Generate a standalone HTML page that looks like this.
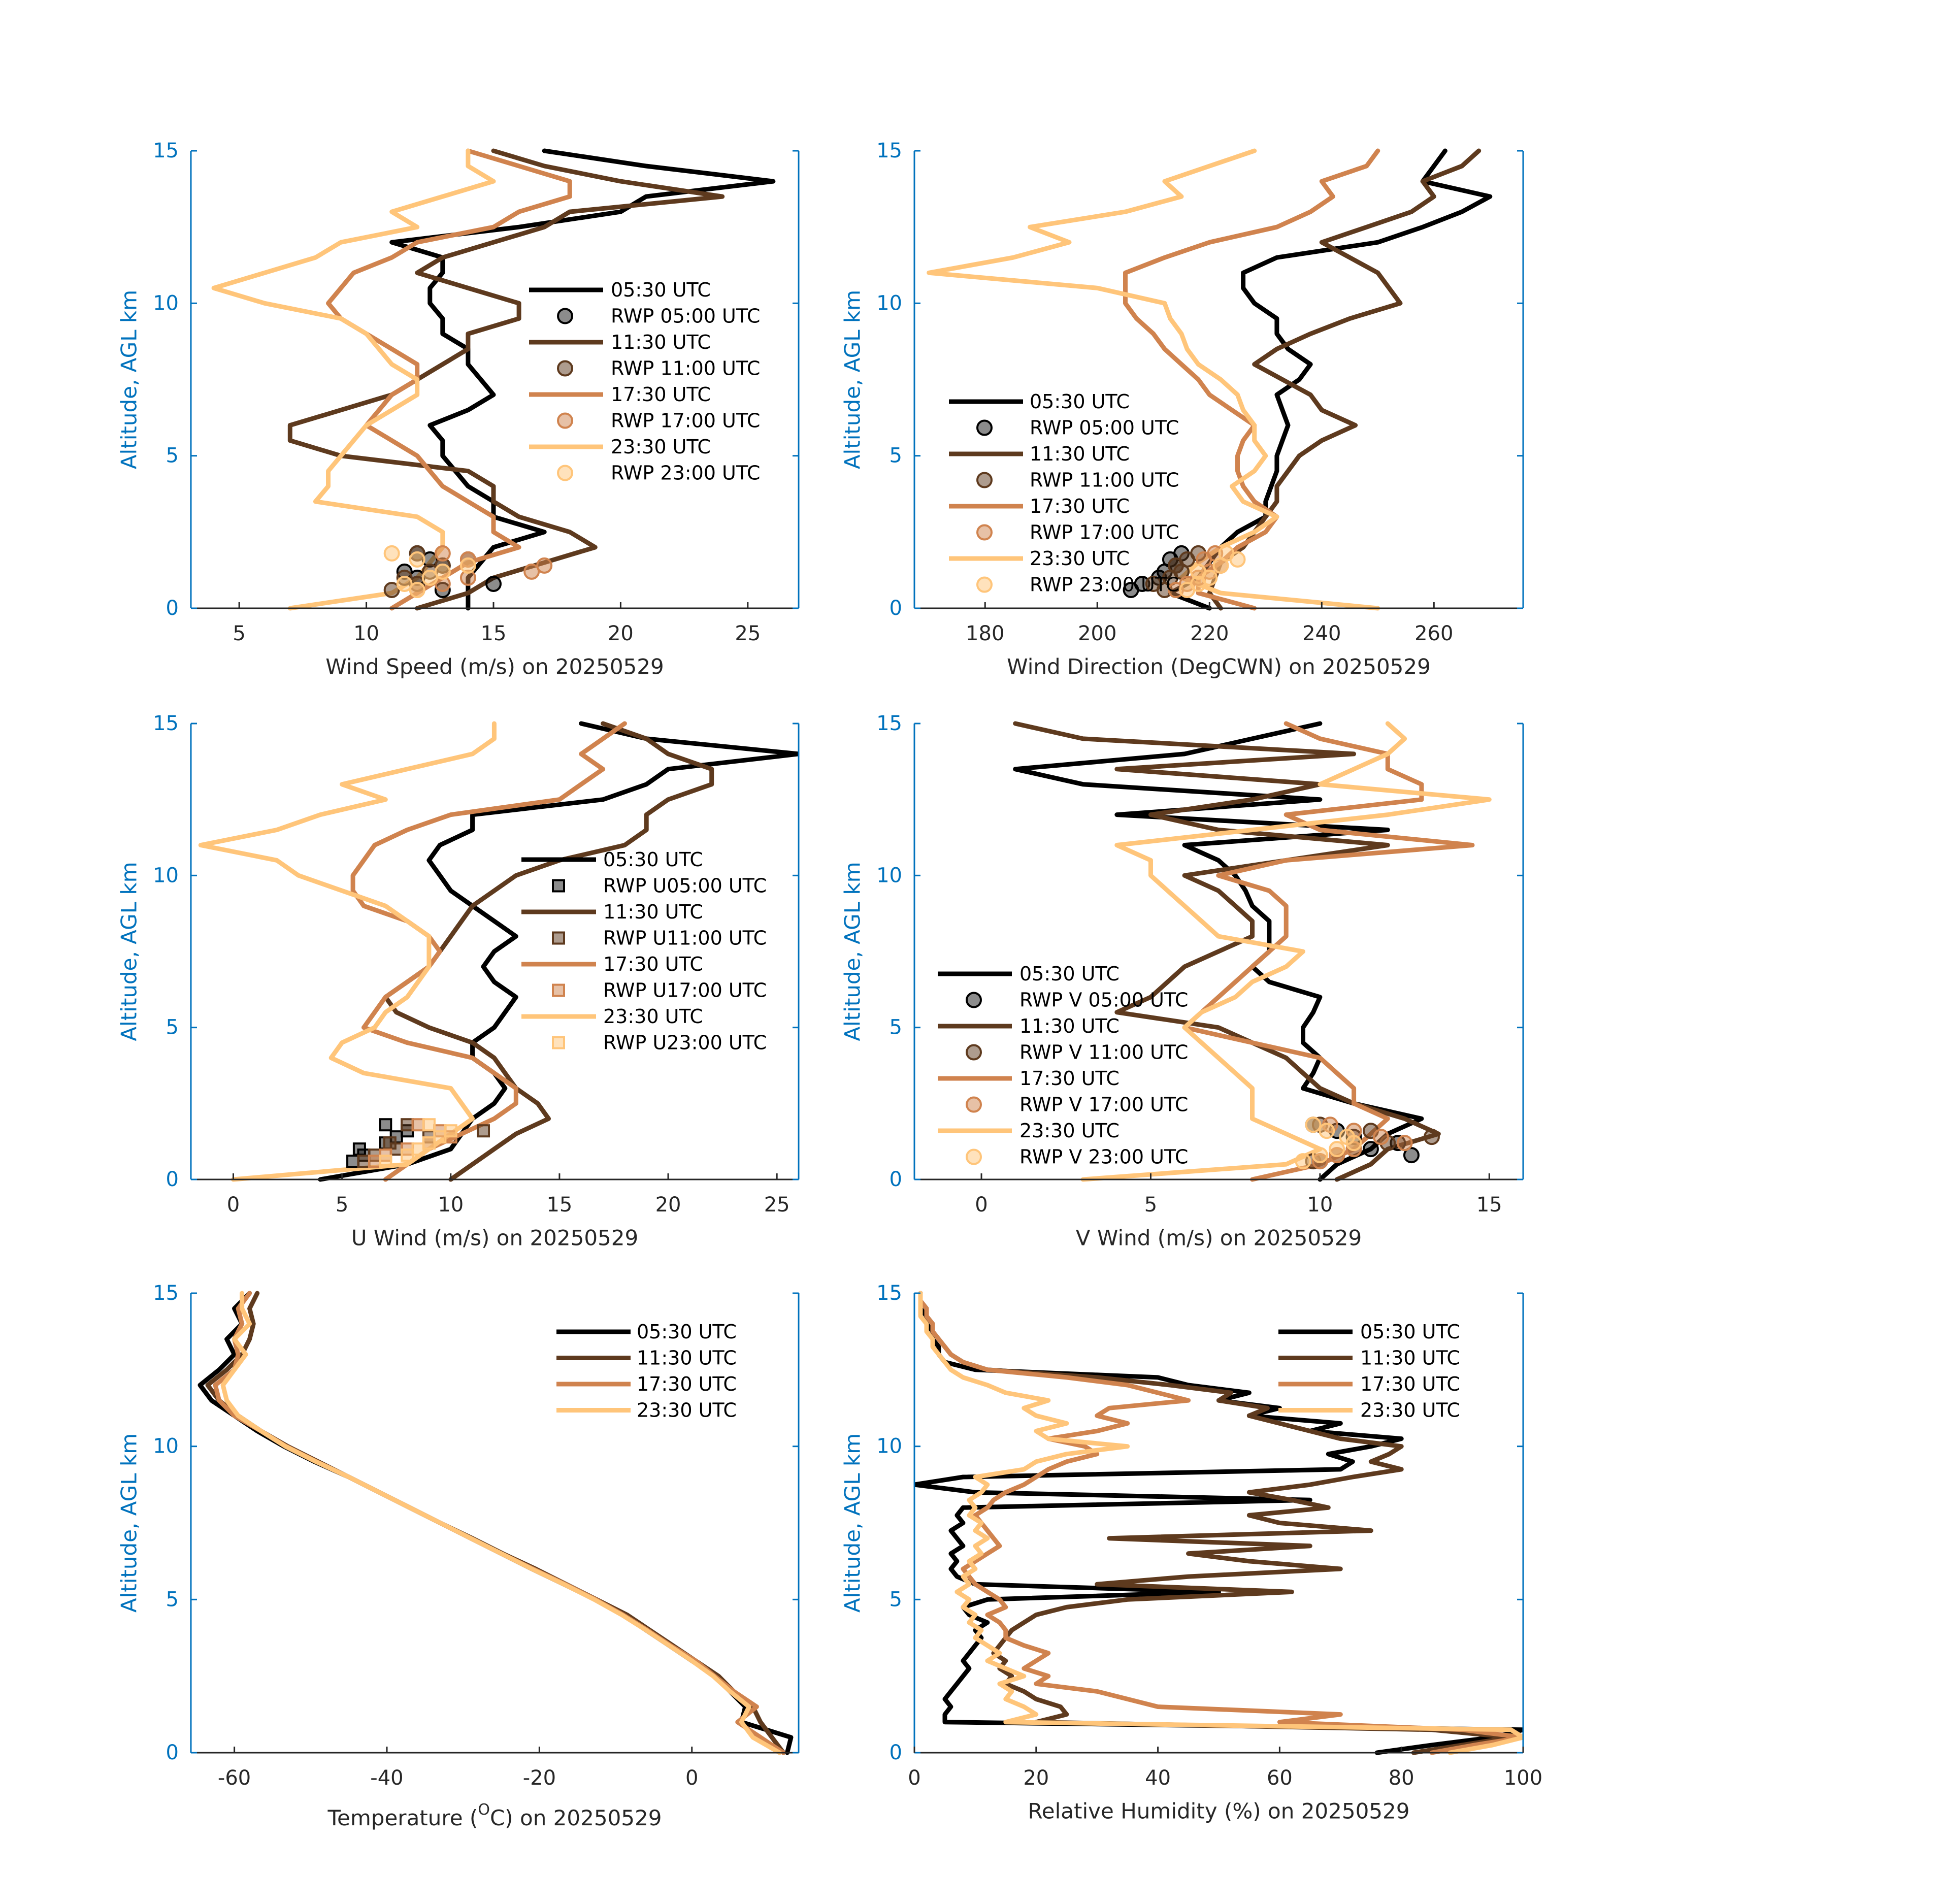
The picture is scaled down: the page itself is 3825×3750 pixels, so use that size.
<!DOCTYPE html>
<html><head><meta charset="utf-8"><title>Sounding profiles 20250529</title>
<style>html,body{margin:0;padding:0;background:#fff}svg{display:block}text{font-family:"DejaVu Sans","Liberation Sans",sans-serif}</style>
</head><body>
<svg id="fig" xmlns="http://www.w3.org/2000/svg" width="3825" height="3750" viewBox="0 0 3825 3750"></svg>
<script>
const ALT=[];for(let i=0;i<=30;i++)ALT.push(i*0.5);
const ALT_RH=[];for(let i=0;i<=60;i++)ALT_RH.push(i*0.25);
const TIMES=["05:30 UTC","11:30 UTC","17:30 UTC","23:30 UTC"];
const RWP_TIMES=["05:00 UTC","11:00 UTC","17:00 UTC","23:00 UTC"];
const RWP_ALT=[0.6,0.8,1.0,1.2,1.4,1.6,1.8];
// wind speed
const ws0=[14,14,14,14.5,15,17,15,15,14,13.5,13,13,12.5,14,15,14.5,14,14,13,13,12.5,12.5,13,13,11,16,20,21,26,21,17];
const ws1=[12,14,15,17,19,18,16,15,15,14,9,7,7,9,11,12,13,14,14,16,16,14,12,13,15,17,18,24,20,17,15];
const ws2=[11,12,13,14,16,15,15,14,13,12.5,12,11,10,10.5,11,12,12,11,10,9,8.5,9,9.5,11,12,15,16,18,18,16,14];
const ws3=[7,11,12,12.5,13,13,12,8,8.5,8.5,9,9.5,10,11,12,12,11,10.5,10,9,6,4,6,8,9,12,11,13,15,14,14];
const rws0=[13,15,12,11.5,13,12.5,12];const rws1=[11,12,11.5,12.5,13,14,12];const rws2=[12,13,14,16.5,17,14,13];const rws3=[12,11.5,12.5,13,14,12,11];
// wind direction
const wd0=[220,213,218,220,222,225,230,230,231,232,232,233,234,233,232,236,238,234,232,232,228,226,226,232,250,258,265,270,258,260,262];
const wd1=[222,220,221,222,226,228,230,232,232,234,236,240,246,240,238,233,228,232,238,245,254,252,250,245,240,248,256,260,258,265,268];
const wd2=[228,218,218,222,225,230,232,228,226,225,225,226,228,224,220,218,215,212,210,207,205,205,205,212,220,232,238,242,240,248,250];
const wd3=[250,222,215,218,222,228,232,226,224,228,230,228,228,226,225,222,218,216,215,213,212,200,170,185,195,188,205,215,212,220,228];
const rwd0=[206,208,211,212,214,213,215];const rwd1=[212,210,213,215,214,216,218];const rwd2=[214,216,218,220,222,219,221];const rwd3=[216,218,220,218,222,225,223];
// U wind
const u0=[4,8,10,10.5,11,12,12.5,12,11,11,12,12.5,13,12,11.5,12,13,12,11,10,9.5,9,9.5,11,11,17,19,20,26,19,16];
const u1=[10,11,12,13,14.5,14,13,12.5,12,11,9,7.5,7,8,9,9.5,10,10.5,11,12,13,15,18,19,19,20,22,22,20,19,17];
const u2=[7,8,9,10.5,12,13,13,12,11,8,6,6.5,7,8,9,9.5,9,8,6,5.5,5.5,6,6.5,8,10,15,16,17,16,17,18];
const u3=[0,8,9,10,11,10.5,10,6,4.5,5,6.5,7,8,8.5,9,9,9,8,7,5,3,2,-1.5,2,4,7,5,8,11,12,12];
const ru0=[5.5,6,5.8,7,7.5,8,7];const ru1=[6,6.5,7.5,7.2,9,11.5,8];const ru2=[6.5,7,8,9,10,9.5,8.5];const ru3=[7,8,8.5,9,9.5,10,9];
// V wind
const v0=[10,10.5,11.5,12,13,11,9.5,9.8,10,9.5,9.5,9.8,10,8.5,8,8.5,8.5,8.5,8,7.8,7.5,7,6,12,4,10,3,1,6,8,10];
const v1=[10.5,11.5,12,13.5,12.5,11,10,9.5,9,8,7,4,5,5.5,6,7,8,8,7.5,7,6,9,12,7,5,8,10,4,11,3,1];
const v2=[8,10,11,11.5,12,11,11,10.5,10,8,6,6.5,7,7.5,8,8.5,9,9,9,8.5,7,9,14.5,10,9,13,13,12,12,10,9];
const v3=[3,9,10,9,8,8,8,7.5,7,6.5,6,6.5,7.5,8,9,9.5,7,6.5,6,5.5,5,5,4,8,12,15,10,11,12,12.5,12];
const rv0=[10,12.7,11.5,12.3,11,10.5,9.8];const rv1=[9.8,10.5,11,12,13.3,11.5,10];const rv2=[10,10.5,11,12.5,11.8,11,10.3];const rv3=[9.5,10,10.5,11,10.8,10.2,9.8];
// temperature
const t0=[12.5,13,6.5,7,5,3,0,-3,-6,-9,-12.7,-16.8,-21,-25,-29,-33,-37,-41,-45,-49.5,-53.5,-57,-60,-63,-64.5,-62,-60,-61,-59,-60,-58];
const t1=[12,10.5,9,8,5.5,3.5,0.5,-2.5,-5.5,-8.5,-12.5,-16.5,-20.5,-24.8,-28.8,-33,-37,-41,-45,-49,-53,-56.5,-59.5,-62,-63.5,-61,-59,-58,-57.5,-58,-57];
const t2=[12,9,6,8.5,5.5,3,0.5,-2.8,-5.8,-9,-12.6,-16.6,-20.8,-25,-29,-33,-37,-41,-45,-49.2,-53.2,-56.5,-60,-62,-62.5,-60,-59.5,-60,-59,-59.5,-58];
const t3=[11.5,8,6.5,7.5,5,2.8,0,-3,-6,-9.2,-12.8,-16.8,-21,-25,-29,-33,-37,-41,-45,-49.3,-53.3,-56.5,-59.5,-61,-61.5,-60,-58.5,-60,-58,-59,-59];
// relative humidity
const rh0=[76,85,95,100,5,5,6,5,6,7,8,9,8,9,10,11,10,12,9,8,12,50,10,7,6,7,6,8,7,6,8,7,8,65,10,0,8,70,72,68,75,80,65,70,55,60,50,55,45,40,10,5,4,4,3,3,2,2,1,1,1];
const rh1=[82,90,98,85,20,25,24,20,18,15,16,14,15,13,14,15,16,18,20,25,35,62,30,45,70,55,45,65,32,75,60,55,68,62,55,65,72,80,75,78,80,70,65,60,55,58,50,52,42,30,12,8,6,5,4,3,3,2,2,1,1];
const rh2=[85,92,100,90,60,70,40,35,30,20,22,18,20,22,18,15,15,14,12,15,14,12,10,9,8,10,12,14,13,12,11,10,12,13,15,18,20,22,25,30,28,22,30,35,30,32,45,40,35,25,12,8,6,5,4,3,3,2,2,1,1];
const rh3=[88,95,100,98,15,20,18,15,16,14,18,15,12,14,12,10,11,9,10,8,9,7,9,8,10,9,11,10,12,10,11,9,10,9,11,12,10,18,20,25,35,22,20,25,20,18,22,15,12,8,6,5,4,3,3,2,2,1,1,1,1];

const COLORS=["#000000","#5E3A1E","#D0834E","#FFC57A"];
const MFILL=["rgba(0,0,0,0.45)","rgba(94,58,30,0.5)","rgba(208,131,78,0.5)","rgba(255,197,122,0.5)"];
const SVGNS="http://www.w3.org/2000/svg";
const fig=document.getElementById('fig');
function mk(tag,attrs,parent){const e=document.createElementNS(SVGNS,tag);for(const k in attrs)e.setAttribute(k,attrs[k]);(parent||fig).appendChild(e);return e;}

const BLUE="#0072BD",DARK="#262626";
const LW=9;
const panels=[
 {x0:376,x1:1573,y0:297,y1:1198,xmin:3.1,xmax:27,xt:[5,10,15,20,25],label:"Wind Speed (m/s) on 20250529",series:[ws0,ws1,ws2,ws3],alt:ALT,rwp:[rws0,rws1,rws2,rws3],mk:"circle",
  leg:{y:571,lx0:1042,lx1:1188,tx:1203,mx:1113,names:["RWP 05:00 UTC","RWP 11:00 UTC","RWP 17:00 UTC","RWP 23:00 UTC"]},name:"wind-speed"},
 {x0:1801,x1:3000,y0:297,y1:1198,xmin:167.4,xmax:275.9,xt:[180,200,220,240,260],label:"Wind Direction (DegCWN) on 20250529",series:[wd0,wd1,wd2,wd3],alt:ALT,rwp:[rwd0,rwd1,rwd2,rwd3],mk:"circle",
  leg:{y:791,lx0:1869,lx1:2015,tx:2028,mx:1939,names:["RWP 05:00 UTC","RWP 11:00 UTC","RWP 17:00 UTC","RWP 23:00 UTC"]},name:"wind-direction"},
 {x0:376,x1:1573,y0:1425,y1:2323,xmin:-1.95,xmax:26,xt:[0,5,10,15,20,25],label:"U Wind (m/s) on 20250529",series:[u0,u1,u2,u3],alt:ALT,rwp:[ru0,ru1,ru2,ru3],mk:"square",
  leg:{y:1693,lx0:1027,lx1:1174,tx:1188,mx:1100,names:["RWP U05:00 UTC","RWP U11:00 UTC","RWP U17:00 UTC","RWP U23:00 UTC"]},name:"u-wind"},
 {x0:1801,x1:3000,y0:1425,y1:2323,xmin:-1.98,xmax:16,xt:[0,5,10,15],label:"V Wind (m/s) on 20250529",series:[v0,v1,v2,v3],alt:ALT,rwp:[rv0,rv1,rv2,rv3],mk:"circle",
  leg:{y:1918,lx0:1847,lx1:1993,tx:2008,mx:1918,names:["RWP V 05:00 UTC","RWP V 11:00 UTC","RWP V 17:00 UTC","RWP V 23:00 UTC"]},name:"v-wind"},
 {x0:376,x1:1573,y0:2547,y1:3452,xmin:-65.7,xmax:14,xt:[-60,-40,-20,0],label:null,series:[t0,t1,t2,t3],alt:ALT,rwp:null,
  leg:{y:2623,lx0:1096,lx1:1242,tx:1254},name:"temperature"},
 {x0:1801,x1:3000,y0:2547,y1:3452,xmin:0,xmax:100,xt:[0,20,40,60,80,100],label:"Relative Humidity (%) on 20250529",series:[rh0,rh1,rh2,rh3],alt:ALT_RH,rwp:null,
  leg:{y:2623,lx0:2518,lx1:2664,tx:2679},name:"relative-humidity"}
];

panels.forEach(p=>{
  const g=mk('g',{});
  
  
  const sx=v=>p.x0+(v-p.xmin)/(p.xmax-p.xmin)*(p.x1-p.x0);
  const sy=h=>p.y1-h/15*(p.y1-p.y0);
  const clipId='clip-'+p.name;
  const cp=mk('clipPath',{id:clipId},g);mk('rect',{x:p.x0,y:p.y0-5,width:p.x1-p.x0,height:p.y1-p.y0+10},cp);
  const plot=mk('g',{'clip-path':'url(#'+clipId+')'},g);
  p.series.forEach((s,si)=>{
    const pts=s.map((v,i)=>sx(v).toFixed(1)+','+sy(p.alt[i]).toFixed(1)).join(' ');
    const pl=mk('polyline',{points:pts,fill:'none',stroke:COLORS[si],'stroke-width':LW,'stroke-linejoin':'round','stroke-linecap':'round'},plot);
    
    
  });
  if(p.rwp){p.rwp.forEach((s,si)=>{s.forEach((v,i)=>{
    let m;
    if(p.mk==='square'){m=mk('rect',{x:sx(v)-11,y:sy(RWP_ALT[i])-11,width:22,height:22,fill:MFILL[si],stroke:si===0?'#000':COLORS[si],'stroke-width':4},plot);}
    else{m=mk('circle',{cx:sx(v),cy:sy(RWP_ALT[i]),r:14,fill:MFILL[si],stroke:si===0?'#000':COLORS[si],'stroke-width':4},plot);}
    
    
  });});}
  const la=mk('line',{x1:p.x0,y1:p.y0,x2:p.x0,y2:p.y1,stroke:BLUE,'stroke-width':3},g);
  
  
  const ra=mk('line',{x1:p.x1,y1:p.y0,x2:p.x1,y2:p.y1,stroke:BLUE,'stroke-width':3},g);
  
  
  const ba=mk('line',{x1:p.x0,y1:p.y1,x2:p.x1,y2:p.y1,stroke:DARK,'stroke-width':3},g);
  
  
  [0,5,10,15].forEach(h=>{
    mk('line',{x1:p.x0,y1:sy(h),x2:p.x0+12,y2:sy(h),stroke:BLUE,'stroke-width':3},g);
    mk('line',{x1:p.x1,y1:sy(h),x2:p.x1-12,y2:sy(h),stroke:BLUE,'stroke-width':3},g);
    const t=mk('text',{x:p.x0-24,y:sy(h),'text-anchor':'end','dominant-baseline':'central','font-size':40,fill:BLUE},g);
    t.textContent=h;
    
    
  });
  p.xt.forEach(v=>{
    mk('line',{x1:sx(v),y1:p.y1,x2:sx(v),y2:p.y1-12,stroke:DARK,'stroke-width':3},g);
    const t=mk('text',{x:sx(v),y:p.y1+50,'text-anchor':'middle','dominant-baseline':'central','font-size':40,fill:DARK},g);
    t.textContent=v;
    
    
  });
  const yl=mk('text',{x:0,y:0,transform:'translate('+(p.x0-122)+','+((p.y0+p.y1)/2)+') rotate(-90)','text-anchor':'middle','dominant-baseline':'central','font-size':42,fill:BLUE},g);
  yl.textContent='Altitude, AGL km';
  
  
  const xl=mk('text',{x:(p.x0+p.x1)/2,y:p.y1+115,'text-anchor':'middle','dominant-baseline':'central','font-size':42,fill:DARK},g);
  if(p.label){xl.textContent=p.label;}
  else{xl.setAttribute('y',p.y1+128);const a=mk('tspan',{},xl);a.textContent='Temperature (';const b=mk('tspan',{dy:-16,'font-size':30},xl);b.textContent='O';const c=mk('tspan',{dy:16},xl);c.textContent='C) on 20250529';}
  
  
  const L=p.leg;const lg=mk('g',{},g);
  
  
  let row=0;
  for(let si=0;si<4;si++){
    const y=L.y+row*51.5;
    mk('line',{x1:L.lx0,y1:y,x2:L.lx1,y2:y,stroke:COLORS[si],'stroke-width':LW},lg);
    const t=mk('text',{x:L.tx,y:y,'dominant-baseline':'central','font-size':38,fill:'#000'},lg);
    t.textContent=TIMES[si];
    
    
    row++;
    if(L.names){
      const y2=L.y+row*51.5;
      if(p.mk==='square')mk('rect',{x:L.mx-11,y:y2-11,width:22,height:22,fill:MFILL[si],stroke:si===0?'#000':COLORS[si],'stroke-width':4},lg);
      else mk('circle',{cx:L.mx,cy:y2,r:14,fill:MFILL[si],stroke:si===0?'#000':COLORS[si],'stroke-width':4},lg);
      const t2=mk('text',{x:L.tx,y:y2,'dominant-baseline':'central','font-size':38,fill:'#000'},lg);
      t2.textContent=L.names[si];
      
      
      row++;
    }
  }
});
</script>
</body></html>
